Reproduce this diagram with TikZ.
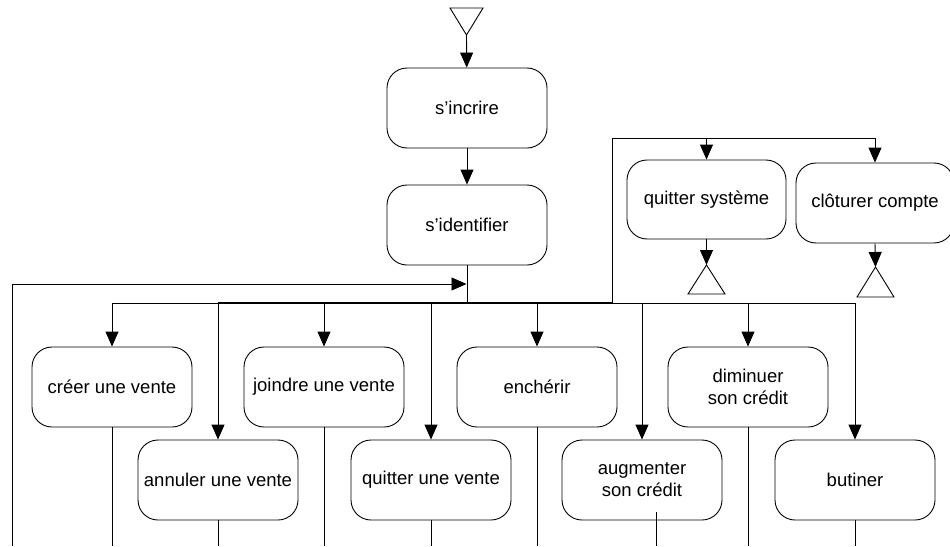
\documentclass[tikz,border=0pt]{standalone}
\usepackage{fontspec}
\setmainfont{Liberation Sans}
\usetikzlibrary{arrows.meta}
\begin{document}
\begin{tikzpicture}[x=1pt,y=-1pt,line width=0.9pt,
  act/.style={draw, rounded corners=20pt, minimum width=160pt, minimum height=80pt,
    align=center, inner sep=0pt, font=\fontsize{18.5}{22}\selectfont},
  arr/.style={-{Triangle[length=15pt,width=13pt]}},
  forkbar/.style={line width=1.8pt}]
\useasboundingbox (0,0) rectangle (950,546);

% start / end markers
\coordinate (start) at (466.5,35);
\draw (start) -- ++(-16.5,-27) -- ++(33,0) -- cycle;

\node[act] (incrire) at (467,108) {s’incrire};
\node[act] (identifier) at (467,225) {s’identifier};

\node[act, minimum width=159pt, minimum height=79pt] (quitsys) at (706.5,199.5) {quitter système};
\node[act, minimum width=158pt] (cloturer) at (875,203) {clôturer compte};

\coordinate (end1) at (706.5,265);
\draw (end1) -- ++(-18.5,29) -- ++(37,0) -- cycle;
\coordinate (end2) at (875.5,267);
\draw (end2) -- ++(-18.5,30) -- ++(37,0) -- cycle;

% row 1
\node[act] (creer) at (112,387) {créer une vente};
\node[act] (joindre) at (324,387) {joindre une vente};
\node[act] (encherir) at (537,387) {enchérir};
\node[act] (diminuer) at (748,387) {diminuer\\son crédit};
% row 2
\node[act] (annuler) at (218,480) {annuler une vente};
\node[act] (quitterv) at (431,480) {quitter une vente};
\node[act] (augmenter) at (642,480) {augmenter\\son crédit};
\node[act] (butiner) at (855,480) {butiner};

% coordinates
\coordinate (barL) at (112,303);
\coordinate (barA) at (218,303);
\coordinate (barB) at (612,303);
\coordinate (barR) at (855,303);
\coordinate (rtop) at (612,138);
\coordinate (loopbot) at (12,546);
\coordinate (join) at (466.5,284);
\coordinate (augA) at (656,512);
\coordinate (augB) at (656,546);

% main flow
\draw[arr] (start) -- (incrire);
\draw[arr] (incrire) -- (identifier);
\draw (identifier.south) -- (identifier.south |- barL);
\draw[arr] (loopbot) |- (join);

% fork bar
\draw (barL) -- (barA);
\draw[forkbar] (barA) -- (barB);
\draw (barB) -- (barR);

% right loop
\draw (barB) -- (rtop);
\draw[arr] (rtop) -| (cloturer.north);
\draw[arr] (quitsys.north |- rtop) -- (quitsys.north);
\draw[arr] (quitsys.south) -- (end1);
\draw[arr] (cloturer.south) -- (end2);

% branches
\foreach \n in {creer,joindre,encherir,diminuer,annuler,quitterv,augmenter,butiner}
  \draw[arr] (\n.north |- barL) -- (\n.north);
\foreach \n in {creer,joindre,encherir,diminuer,annuler,quitterv,butiner}
  \draw (\n.south) -- (\n.south |- loopbot);
\draw (augA) -- (augB);
\end{tikzpicture}
\end{document}
